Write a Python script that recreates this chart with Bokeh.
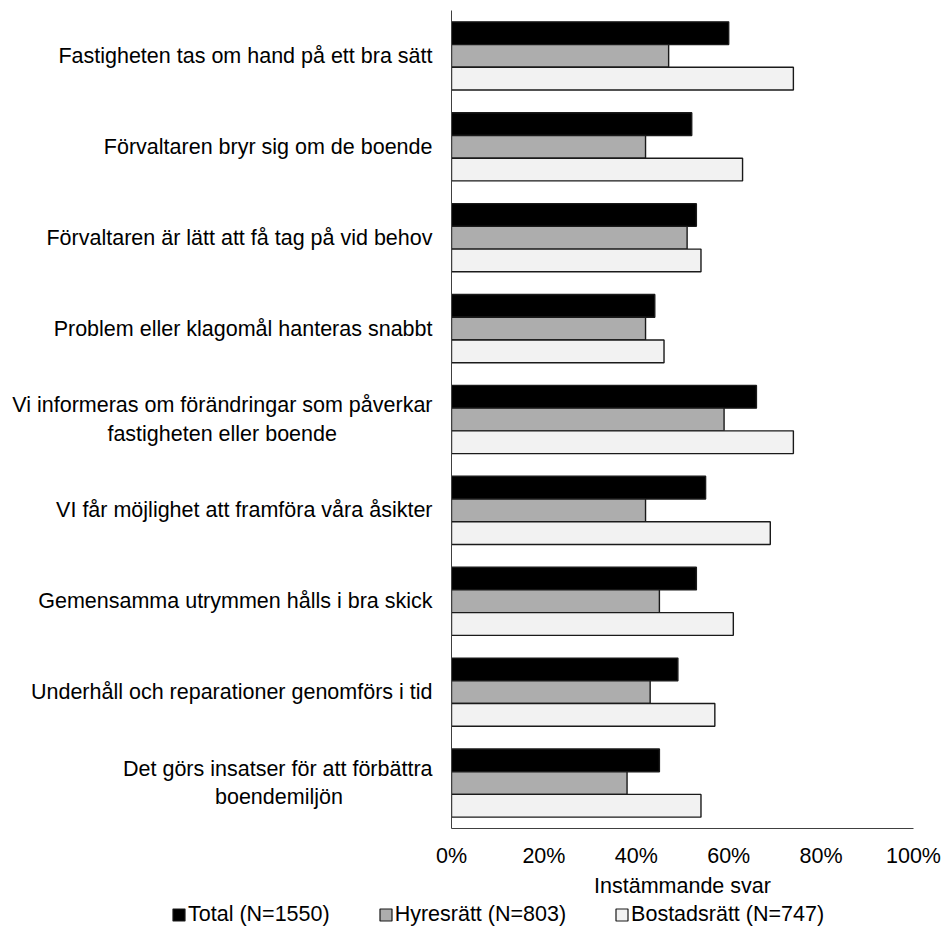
from bokeh.plotting import figure
from bokeh.layouts import column
from bokeh.models import ColumnDataSource, FactorRange, Range1d, FixedTicker, Legend, LegendItem
from bokeh.transform import dodge
from bokeh.embed import file_html
from bokeh.resources import INLINE

NB = "\u00a0"
categories = [
    "Fastigheten tas om hand på ett bra sätt",
    "Förvaltaren bryr sig om de boende",
    "Förvaltaren är lätt att få tag på vid behov",
    "Problem eller klagomål hanteras snabbt",
    "Vi informeras om förändringar som påverkar\nfastigheten eller boende" + NB * 16,
    "VI får möjlighet att framföra våra åsikter",
    "Gemensamma utrymmen hålls i bra skick",
    "Underhåll och reparationer genomförs i tid",
    "Det görs insatser för att förbättra\nboendemiljön" + NB * 15,
]
total = [60, 52, 53, 44, 66, 55, 53, 49, 45]
hyresratt = [47, 42, 51, 42, 59, 42, 45, 43, 38]
bostadsratt = [74, 63, 54, 46, 74, 69, 61, 57, 54]
series_names = ["Total (N=1550)", "Hyresrätt (N=803)", "Bostadsrätt (N=747)"]
series_cols = ["total", "hyres", "bostad"]
series_colors = ["#000000", "#adadad", "#f2f2f2"]
x_ticks = [0, 20, 40, 60, 80, 100]
x_tick_labels = ["0%", "20%", "40%", "60%", "80%", "100%"]
x_title = "Instämmande svar"

FONT = "Liberation Sans"
FS = "21.5px"
EDGE = "#1a1a1a"

source = ColumnDataSource(dict(cat=categories, total=total, hyres=hyresratt, bostad=bostadsratt))

p = figure(width=944, height=900,
           y_range=FactorRange(*reversed(categories)),
           x_range=Range1d(0, 100),
           output_backend="svg", toolbar_location=None,
           min_border_left=451, min_border_right=31,
           min_border_top=10, min_border_bottom=66)
p.frame_align = False

bar_h = 0.25
offsets = [0.25, 0.0, -0.25]
for col, off, color in zip(series_cols, offsets, series_colors):
    p.hbar(y=dodge("cat", off, range=p.y_range), right=col, left=0, height=bar_h,
           source=source, fill_color=color, line_color=EDGE, line_width=1.4)

p.xgrid.visible = False
p.ygrid.visible = False
p.outline_line_color = None
p.background_fill_color = "white"
p.border_fill_color = "white"

xa = p.xaxis[0]
xa.ticker = FixedTicker(ticks=x_ticks)
xa.major_label_overrides = {t: l for t, l in zip(x_ticks, x_tick_labels)}
xa.major_tick_line_color = None
xa.major_tick_out = 0
xa.major_tick_in = 0
xa.minor_tick_line_color = None
xa.axis_line_color = "#404040"
xa.major_label_text_font = FONT
xa.major_label_text_font_size = FS
xa.major_label_text_color = "#000000"
xa.major_label_standoff = 15
xa.axis_label = x_title
xa.axis_label_text_font = FONT
xa.axis_label_text_font_size = FS
xa.axis_label_text_font_style = "normal"
xa.axis_label_text_color = "#000000"
xa.axis_label_standoff = 3

ya = p.yaxis[0]
ya.major_tick_line_color = None
ya.major_tick_out = 0
ya.major_tick_in = 0
ya.minor_tick_line_color = None
ya.axis_line_color = "#404040"
ya.major_label_text_font = FONT
ya.major_label_text_font_size = FS
ya.major_label_text_color = "#000000"
ya.major_label_standoff = 19

# legend strip (separate figure so the legend can sit left of the plot frame)
lf = figure(width=944, height=26, output_backend="svg", toolbar_location=None,
            x_axis_type=None, y_axis_type=None, min_border=0)
lf.frame_align = False
lf.outline_line_color = None
lf.xgrid.visible = False
lf.ygrid.visible = False
items = []
for name, col, color in zip(series_names, series_cols, series_colors):
    # hidden proxy renderer: only used to draw the legend swatch
    r = lf.hbar(y=col, right=col, left=0, height=1, source=source,
                fill_color=color, line_color=EDGE, line_width=1.2, visible=False)
    items.append(LegendItem(label=name, renderers=[r]))
legend = Legend(items=items, orientation="horizontal", location=(171, -1),
                glyph_width=15, glyph_height=15, label_standoff=2, spacing=48,
                padding=0, margin=0, border_line_color=None, background_fill_alpha=0,
                inactive_fill_alpha=0,
                label_text_font=FONT, label_text_font_size=FS, label_text_color="#000000",
                label_height=21)
lf.add_layout(legend, "center")

layout = column(p, lf, spacing=0)
open("out.html", "w").write(file_html(layout, INLINE))
